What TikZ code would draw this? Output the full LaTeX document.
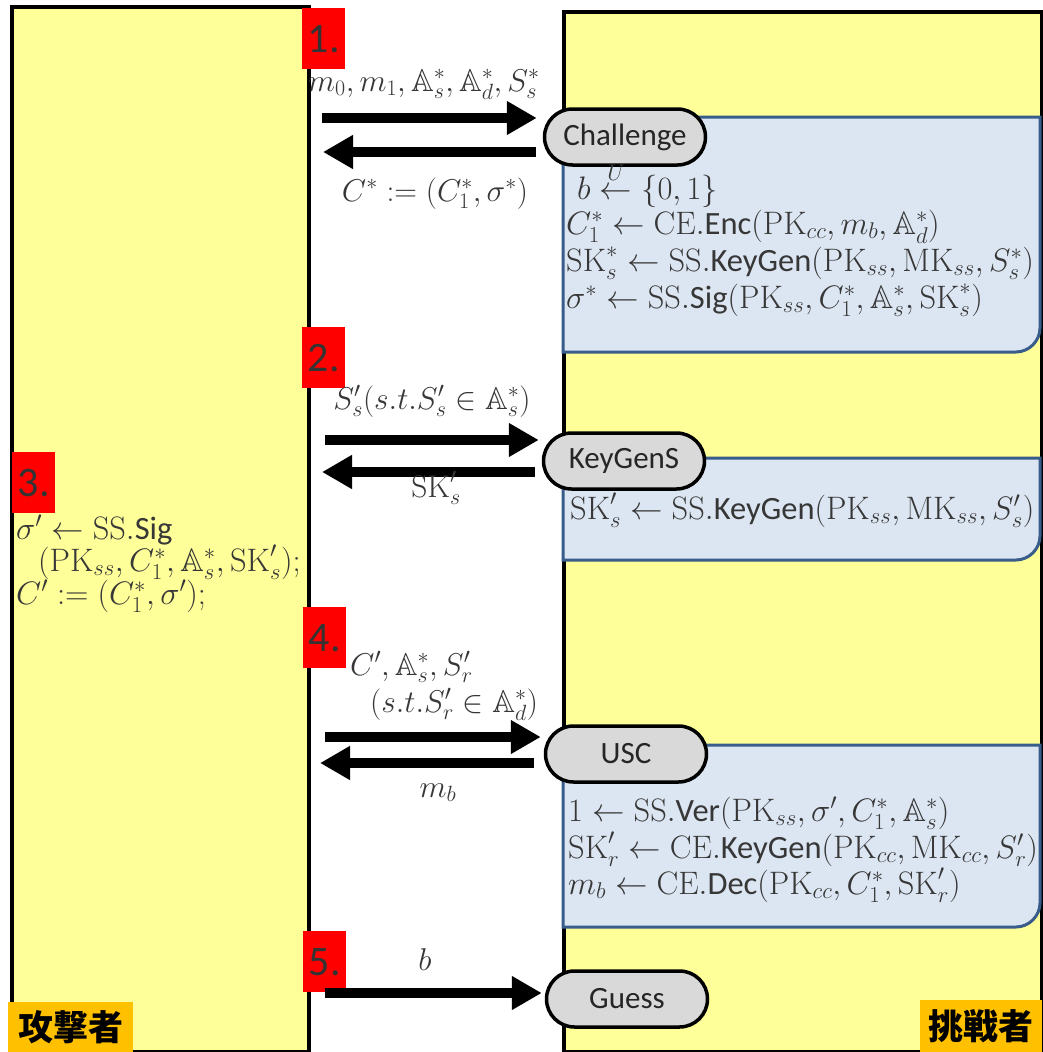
\documentclass[tikz,border=0pt]{standalone}
\usepackage{fix-cm}
\usepackage{amsmath,amssymb}
\DeclareFontFamily{U}{msb}{}
\DeclareFontShape{U}{msb}{m}{n}{<-> msbm10}{}
\usepackage{fontspec}
\newfontfamily\calib{Carlito}
\newfontfamily\jpfont{Noto Sans CJK JP}
\usetikzlibrary{arrows.meta,shapes.misc}

\definecolor{boxyellow}{RGB}{255,255,153}
\definecolor{boxblue}{RGB}{220,230,242}
\definecolor{edgeblue}{RGB}{56,93,138}
\definecolor{stepred}{RGB}{255,0,0}
\definecolor{tagorange}{RGB}{255,192,0}
\definecolor{pillgray}{RGB}{217,217,217}
\definecolor{mathgray}{RGB}{55,55,55}

\newcommand{\sfop}[1]{\text{\calib #1}}
\newcommand{\Ab}{\mathbb{A}}

\begin{document}
\begin{tikzpicture}[x=1pt,y=-1pt,
  party/.style={fill=boxyellow, draw=black, line width=4pt, inner sep=0pt, anchor=north west},
  proc/.style={fill=boxblue, draw=edgeblue, line width=3pt},
  pill/.style={rounded rectangle, draw=black, line width=3.5pt, fill=pillgray,
    minimum width=161pt, minimum height=56pt, inner sep=0pt,
    font=\calib\fontsize{31}{36}\selectfont, text=black!85},
  numtag/.style={fill=stepred, inner sep=0pt, anchor=north west, minimum width=43pt, minimum height=61pt,
    font=\calib\fontsize{42}{48}\selectfont, text=black!80},
  bigarr/.style={line width=10pt, -{Triangle[length=30pt,width=32pt]}},
  lbl/.style={inner sep=0pt, anchor=base, text=mathgray, font=\fontsize{31.5}{36}\selectfont},
  mline/.style={inner sep=0pt, anchor=base west, text=mathgray, font=\fontsize{32.5}{38}\selectfont},
  roletag/.style={fill=tagorange, inner sep=0pt, text=black,
    font=\jpfont\bfseries\fontsize{35}{40}\selectfont}]

\useasboundingbox (0,0) rectangle (1042,1052);
\fill[white] (0,0) rectangle (1042,1052);

% parties
\node[party, minimum width=297pt, minimum height=1045pt] (atk) at (10,5) {};
\node[party, minimum width=478pt, minimum height=1040pt] (chl) at (562,10) {};

% processing boxes
\path[proc] (563,117) -- (1040,117) -- (1040,328) .. controls (1040,341) and (1029,352) .. (1016,352) -- (563,352) -- cycle;
\path[proc] (563,458) -- (1040,458) -- (1040,536) .. controls (1040,549) and (1029,560) .. (1016,560) -- (563,560) -- cycle;
\path[proc] (563,745) -- (1040,745) -- (1040,903) .. controls (1040,916) and (1029,927) .. (1016,927) -- (563,927) -- cycle;

% oracle pills
\node[pill] (ch) at (625,137) {Challenge};
\node[pill] (kg) at (624,461) {KeyGenS};
\node[pill] (usc) at (626,754) {USC};
\node[pill] (gs) at (627,999) {Guess};

% step numbers
\node[numtag] (n1) at (302,8) {1.};
\node[numtag] (n2) at (302,327) {2.};
\node[numtag] (n3) at (12,452) {3.};
\node[numtag] (n4) at (303,607) {4.};
\node[numtag] (n5) at (303,931) {5.};

% arrows
\coordinate (a1) at (322,118);
\coordinate (b1) at (323,152);
\coordinate (a2) at (325,440);
\coordinate (b2) at (322,472);
\coordinate (a4) at (325,737);
\coordinate (b4) at (320,763);
\coordinate (a5) at (325,993);
\draw[bigarr, shorten >=6pt] (a1) -- (a1 -| ch.west);
\draw[bigarr, shorten <=7pt] (ch.west |- b1) -- (b1);
\draw[bigarr, shorten >=3pt] (a2) -- (a2 -| kg.west);
\draw[bigarr, shorten <=7pt] (kg.west |- b2) -- (b2);
\draw[bigarr, shorten >=3pt] (a4) -- (a4 -| usc.west);
\draw[bigarr, shorten <=10pt] (usc.west |- b4) -- (b4);
\draw[bigarr, shorten >=3pt] (a5) -- (a5 -| gs.west);

% arrow labels
\node[lbl] (l1a) at (424,91) {$m_0, m_1, \Ab_s^*, \Ab_d^*, S_s^*$};
\node[lbl] (l1b) at (435,201) {$C^* := (C_1^*, \sigma^*)$};
\node[lbl] (l2a) at (432,409) {$S'_s(s.t.S'_s \in \Ab_s^*)$};
\node[lbl] (l2b) at (436,497) {$\mathrm{SK}'_s$};
\node[lbl, anchor=base west] (l4a) at (350,675) {$C', \Ab_s^*, S'_r$};
\node[lbl, anchor=base west] (l4b) at (370,712) {$(s.t.S'_r \in \Ab_d^*)$};
\node[lbl] (l4c) at (438,797) {$m_b$};
\node[lbl] (l5) at (425,970) {$b$};

% challenge computations
\node[mline] (c1) at (577,199) {$b \stackrel{U}{\leftarrow} \{0,1\}$};
\node[mline] (c2) at (566,234) {$C_1^* \leftarrow \mathrm{CE}.\sfop{Enc}(\mathrm{PK}_{cc}, m_b, \Ab_d^*)$};
\node[mline] (c3) at (566,271) {$\mathrm{SK}_s^* \leftarrow \mathrm{SS}.\sfop{KeyGen}(\mathrm{PK}_{ss}, \mathrm{MK}_{ss}, S_s^*)$};
\node[mline] (c4) at (566,308) {$\sigma^* \leftarrow \mathrm{SS}.\sfop{Sig}(\mathrm{PK}_{ss}, C_1^*, \Ab_s^*, \mathrm{SK}_s^*)$};

% keygen computation
\node[mline] (k1) at (570,519) {$\mathrm{SK}'_s \leftarrow \mathrm{SS}.\sfop{KeyGen}(\mathrm{PK}_{ss}, \mathrm{MK}_{ss}, S'_s)$};

% usc computations
\node[mline] (u1) at (568,821) {$1 \leftarrow \mathrm{SS}.\sfop{Ver}(\mathrm{PK}_{ss}, \sigma', C_1^*, \Ab_s^*)$};
\node[mline] (u2) at (568,858) {$\mathrm{SK}'_r \leftarrow \mathrm{CE}.\sfop{KeyGen}(\mathrm{PK}_{cc}, \mathrm{MK}_{cc}, S'_r)$};
\node[mline] (u3) at (568,894) {$m_b \leftarrow \mathrm{CE}.\sfop{Dec}(\mathrm{PK}_{cc}, C_1^*, \mathrm{SK}'_r)$};

% adversary computation
\node[mline] (s1) at (16,539) {$\sigma' \leftarrow \mathrm{SS}.\sfop{Sig}$};
\node[mline] (s2) at (38,571) {$(\mathrm{PK}_{ss}, C_1^*, \Ab_s^*, \mathrm{SK}'_s);$};
\node[mline] (s3) at (16,604) {$C' := (C_1^*, \sigma');$};

% role tags
\node[roletag, anchor=south west, minimum width=125pt, minimum height=50pt] (atkTag) at (8,1052) {攻撃者};
\node[roletag, anchor=south east, minimum width=122pt, minimum height=52pt] (chlTag) at (1042,1052) {挑戦者};
\end{tikzpicture}
\end{document}
